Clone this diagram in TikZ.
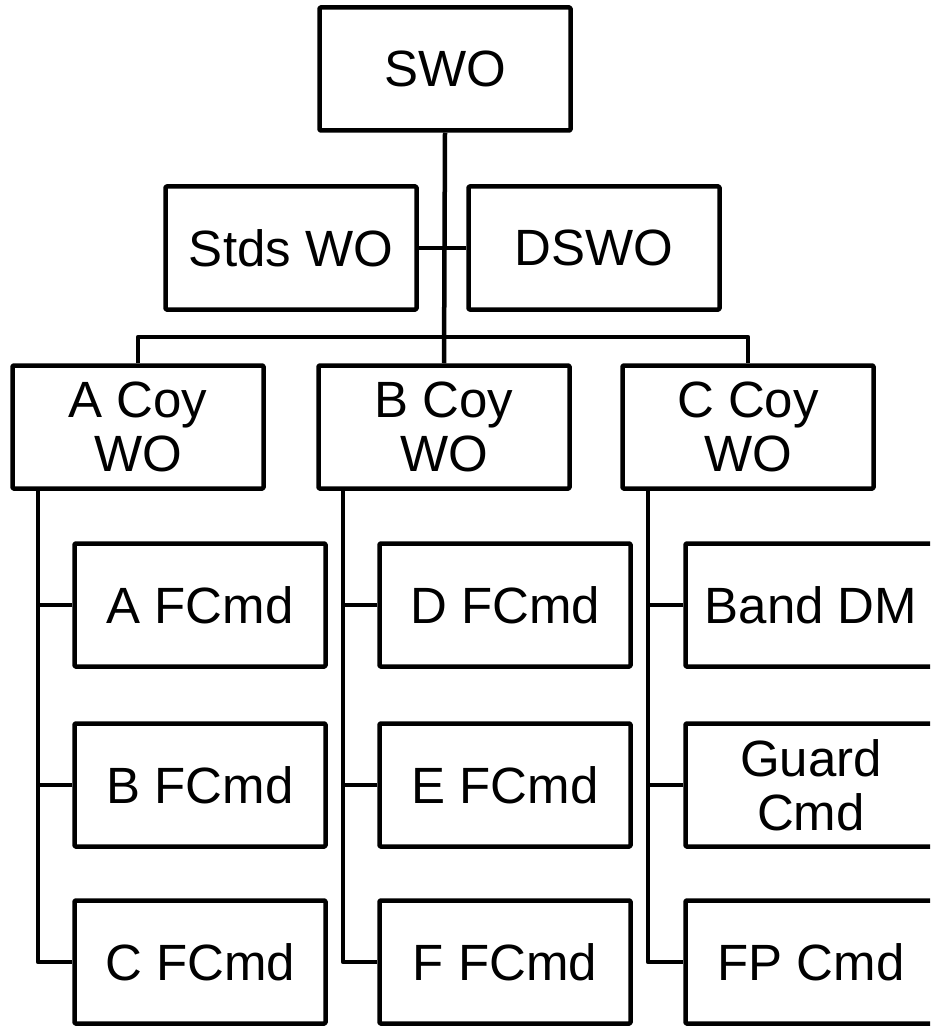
\documentclass[tikz,border=0pt]{standalone}
\usepackage{fontspec}
\setmainfont{Liberation Sans}

\begin{document}
\begin{tikzpicture}
    [x=1pt,y=-1pt,line width=4.5pt,line join=round,
    post/.style={draw,rectangle,rounded corners=1pt,minimum width=251pt,
        minimum height=123pt,inner sep=0pt,align=center,
        font=\fontsize{51}{54}\selectfont}]
    \useasboundingbox (0,0) rectangle (930,1027);
    \clip (0,0) rectangle (930,1027);
    %top
    \node[post] (swo) at (445,69) {SWO};
    \node[post] (stds) at (291,248) {Stds WO};
    \node[post] (dswo) at (594,248) {DSWO};
    %coys
    \node[post] (acoy) at (138,427) {A Coy\\WO};
    \node[post] (bcoy) at (444,427) {B Coy\\WO};
    \node[post] (ccoy) at (748,427) {C Coy\\WO};
    %A coy
    \node[post] (afcmd) at (200,605) {A FCmd};
    \node[post] (bfcmd) at (200,785) {B FCmd};
    \node[post] (cfcmd) at (200,962) {C FCmd};
    %B coy
    \node[post] (dfcmd) at (505,605) {D FCmd};
    \node[post] (efcmd) at (505,785) {E FCmd};
    \node[post] (ffcmd) at (505,962) {F FCmd};
    %C coy
    \node[post] (band) at (811,605) {Band DM};
    \node[post] (guard) at (811,785) {Guard\\Cmd};
    \node[post] (fpcmd) at (811,962) {FP Cmd};
    %links
    \coordinate (bar) at (444,337);
    \draw (swo.south) -- (bcoy.north);
    \draw (stds.east) -- (dswo.west);
    \draw (acoy.north) |- (bar) -| (ccoy.north);
    \coordinate (atop) at (38,490);
    \coordinate (btop) at (343,490);
    \coordinate (ctop) at (648,490);
    \draw (atop) |- (cfcmd.west);
    \draw (btop) |- (ffcmd.west);
    \draw (ctop) |- (fpcmd.west);
    \draw (afcmd.west) -- (afcmd.west -| atop);
    \draw (bfcmd.west) -- (bfcmd.west -| atop);
    \draw (dfcmd.west) -- (dfcmd.west -| btop);
    \draw (efcmd.west) -- (efcmd.west -| btop);
    \draw (band.west) -- (band.west -| ctop);
    \draw (guard.west) -- (guard.west -| ctop);
\end{tikzpicture}
\end{document}
